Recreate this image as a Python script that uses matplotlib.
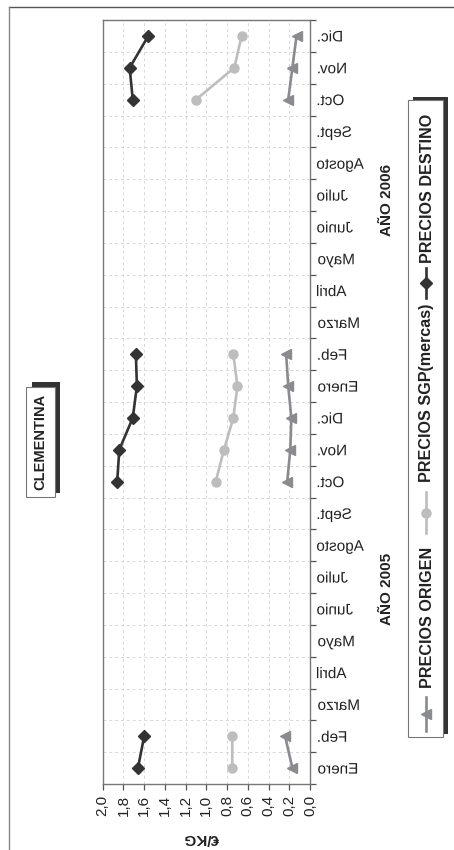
import numpy as np
import matplotlib
matplotlib.use('Agg')
import matplotlib.pyplot as plt
from matplotlib.patheffects import AbstractPathEffect, SimplePatchShadow, Normal
from matplotlib.transforms import Affine2D
from matplotlib.lines import Line2D
from matplotlib.patches import Rectangle

plt.rcParams['font.family'] = ['Liberation Sans', 'DejaVu Sans']

# ---------------- data ----------------
title = 'CLEMENTINA'
axis_label = '€/KG'
months = ['Enero', 'Feb.', 'Marzo', 'Abril', 'Mayo', 'Junio', 'Julio',
          'Agosto', 'Sept.', 'Oct.', 'Nov.', 'Dic.']
month_labels = months + months
year_labels = ['AÑO 2005', 'AÑO 2006']
series_names = ['PRECIOS ORIGEN', 'PRECIOS SGP(mercas)', 'PRECIOS DESTINO']
value_ticks = [0.0, 0.2, 0.4, 0.6, 0.8, 1.0, 1.2, 1.4, 1.6, 1.8, 2.0]
value_tick_labels = ['0,0', '0,2', '0,4', '0,6', '0,8', '1,0', '1,2', '1,4', '1,6', '1,8', '2,0']

precios_origen = [0.17, 0.24, None, None, None, None, None, None, None, 0.22, 0.19, 0.18,
                  0.21, 0.23, None, None, None, None, None, None, None, 0.21, 0.17, 0.13]
precios_sgp = [0.75, 0.75, None, None, None, None, None, None, None, 0.91, 0.83, 0.74,
               0.70, 0.74, None, None, None, None, None, None, None, 1.10, 0.73, 0.66]
precios_destino = [1.66, 1.60, None, None, None, None, None, None, None, 1.86, 1.84, 1.71,
                   1.67, 1.68, None, None, None, None, None, None, None, 1.71, 1.74, 1.56]

series = [precios_origen, precios_sgp, precios_destino]
colors = ['#8a8b8f', '#bdbdbd', '#333333']
markers = ['<', 'o', 'D']
msizes = [7.5, 6.5, 6.5]


class Mirror(AbstractPathEffect):
    """Draw the text glyphs mirrored horizontally (as in the reference)."""
    def draw_path(self, renderer, gc, tpath, affine, rgbFace=None):
        ext = tpath.get_extents()
        cx = 0.5 * (ext.x0 + ext.x1)
        flip = Affine2D().translate(-cx, 0).scale(-1, 1).translate(cx, 0)
        renderer.draw_path(gc, tpath, flip + affine, rgbFace)


W, H = 454, 850
fig = plt.figure(figsize=(W / 100, H / 100), dpi=100)
fig.patch.set_facecolor('white')

def fx(px):
    return px / W

def fy(py):
    return 1 - py / H

# outer frame lines
fig.add_artist(Line2D([fx(9), fx(454)], [fy(7), fy(7)], transform=fig.transFigure,
                      color='#555555', lw=1.0))
fig.add_artist(Line2D([fx(9), fx(9)], [fy(7), fy(850)], transform=fig.transFigure,
                      color='#888888', lw=1.0))

ax = fig.add_axes([fx(102.7), fy(784), (310 - 102.7) / W, (784 - 20) / H])

pos = np.arange(len(month_labels))
for vals, c, m, ms in zip(series, colors, markers, msizes):
    v = np.array([np.nan if x is None else x for x in vals], dtype=float)
    ax.plot(v, pos, color=c, lw=1.9, marker=m, markersize=ms,
            markerfacecolor=c, markeredgecolor=c, zorder=3)

ax.set_xlim(2.0, 0.0)
ax.set_ylim(-0.5, len(month_labels) - 0.5)

ax.set_xticks(value_ticks)
ax.set_xticklabels(value_tick_labels, rotation=90, fontsize=11, color='#222222')
ax.tick_params(axis='x', direction='out', length=4, width=0.9, color='#555555', pad=4)

ax.yaxis.set_ticks_position('right')
ax.set_yticks(np.arange(-0.5, len(month_labels), 1.0))
ax.set_yticklabels([])
ax.set_yticks(pos, minor=True)
ax.set_yticklabels(month_labels, minor=True, fontsize=11, color='#222222')
ax.tick_params(axis='y', which='major', direction='out', length=4, width=0.9,
               color='#555555', left=False, right=True, labelleft=False)
ax.tick_params(axis='y', which='minor', length=0, left=False, right=True,
               labelleft=False, labelright=True, pad=5)

ax.grid(True, which='major', color='#d8d8d8', lw=0.7, ls=(0, (3, 3)))
ax.set_axisbelow(True)
for s in ax.spines.values():
    s.set_color('#777777')
    s.set_linewidth(1.0)

ax.set_xlabel(axis_label, rotation=180, fontsize=11, fontweight='bold', color='#222222')
ax.xaxis.set_label_coords(0.474, -0.062)
ax.xaxis.label.set_va('top')

# years
fig.text(fx(387), fy(589), year_labels[0], rotation=90, ha='center', va='center',
         fontsize=11, fontweight='bold', color='#222222')
fig.text(fx(387), fy(200), year_labels[1], rotation=90, ha='center', va='center',
         fontsize=11, fontweight='bold', color='#222222')

# title box
t = fig.text(fx(40.5), fy(442), title, rotation=90, ha='center', va='center',
             fontsize=10.5, fontweight='bold', color='#222222',
             bbox=dict(boxstyle='square,pad=0.5', fc='white', ec='#777777', lw=0.8))
t.get_bbox_patch().set_path_effects([
    SimplePatchShadow(offset=(4, 3), shadow_rgbFace='#333333', alpha=1.0), Normal()])

# legend box
leg = Rectangle((fx(408), fy(737)), (443 - 408) / W, (737 - 100) / H,
                transform=fig.transFigure, fc='white', ec='#777777', lw=0.8, zorder=2)
leg.set_path_effects([SimplePatchShadow(offset=(3.5, 2.5), shadow_rgbFace='#333333', alpha=1.0),
                      Normal()])
fig.add_artist(leg)

lx = fx(426)
handles_px = [(731, 697), (533, 492), (298, 268)]
text_start_px = [688, 482, 263]
for name, c, m, ms, (h0, h1), ts in zip(series_names, colors, markers, msizes,
                                         handles_px, text_start_px):
    fig.add_artist(Line2D([lx, lx], [fy(h0), fy(h1)], transform=fig.transFigure,
                          color=c, lw=1.9, zorder=3))
    fig.add_artist(Line2D([lx], [fy((h0 + h1) / 2)], transform=fig.transFigure,
                          color=c, marker=m, markersize=ms, markerfacecolor=c,
                          markeredgecolor=c, lw=0, zorder=3))
    fig.text(lx + fx(1), fy(ts), name, rotation=90, ha='center', va='bottom',
             fontsize=11.6, fontweight='bold', color='#222222', zorder=4)

fig.canvas.draw()
for lab in ax.get_yticklabels(minor=True):
    lab.set_path_effects([Mirror()])

fig.savefig('out.png', dpi=100, facecolor='white')
